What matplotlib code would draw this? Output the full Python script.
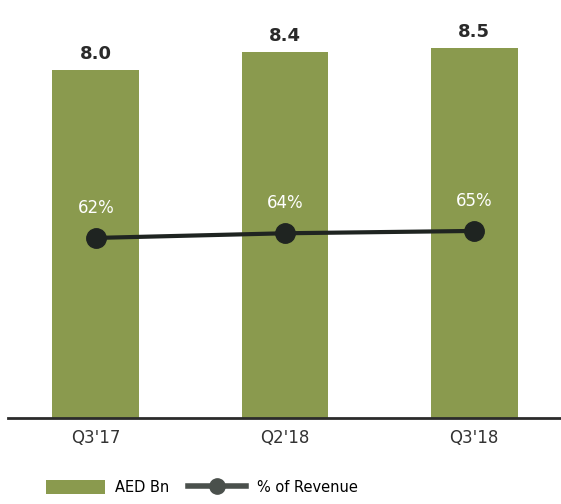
import numpy as np
import matplotlib.pyplot as plt
from matplotlib.lines import Line2D
from matplotlib.patches import Patch

# Quarterly cost figures (AED Bn) and share of revenue
quarters = ["Q3'17", "Q2'18", "Q3'18"]
aed_bn = [8.0, 8.4, 8.5]
pct_revenue = [62, 64, 65]

bar_color = "#8a9a4e"
line_color = "#1f2421"

fig = plt.figure(figsize=(5.61, 5.04), dpi=100)
ax = fig.add_axes([0.014, 0.1706, 0.986, 0.8294])

x = np.arange(len(quarters))
bars = ax.bar(x, aed_bn, width=0.46, color=bar_color, zorder=2)
for xi, v in zip(x, aed_bn):
    ax.annotate(f"{v:.1f}", (xi, v), xytext=(0, 5), textcoords="offset points",
                ha="center", va="bottom", fontsize=13, fontweight="bold",
                color="#2a2a2a")

ax.set_xlim(-0.466, 2.46)
ax.set_ylim(0, 9.6)
ax.set_xticks(x)
ax.set_xticklabels(quarters, fontsize=12, color="#333333")
ax.tick_params(axis="x", length=0, pad=8)
ax.set_yticks([])
for s in ["left", "right", "top"]:
    ax.spines[s].set_visible(False)
ax.spines["bottom"].set_color("#2b2b2b")
ax.spines["bottom"].set_linewidth(2)

# percentage line on its own scale
ax2 = ax.twinx()
ax2.plot(x, pct_revenue, color=line_color, linewidth=3, marker="o",
         markersize=14, zorder=3)
for xi, p in zip(x, pct_revenue):
    ax2.annotate(f"{p}%", (xi, p), xytext=(0, 15), textcoords="offset points",
                 ha="center", va="bottom", fontsize=12, color="white")
ax2.set_ylim(-15.2, 164)
ax2.set_yticks([])
for s in ax2.spines.values():
    s.set_visible(False)

handles = [
    Patch(facecolor=bar_color, label="AED Bn"),
    Line2D([], [], color="#4a504c", linewidth=4, marker="o", markersize=11,
           label="% of Revenue"),
]
fig.legend(handles=handles, loc="center", bbox_to_anchor=(0.36, 0.032),
           ncol=2, frameon=False, fontsize=10.5, handlelength=4.0,
           handleheight=1.1, columnspacing=1.3, handletextpad=0.7)

fig.savefig("out.png", dpi=100)
